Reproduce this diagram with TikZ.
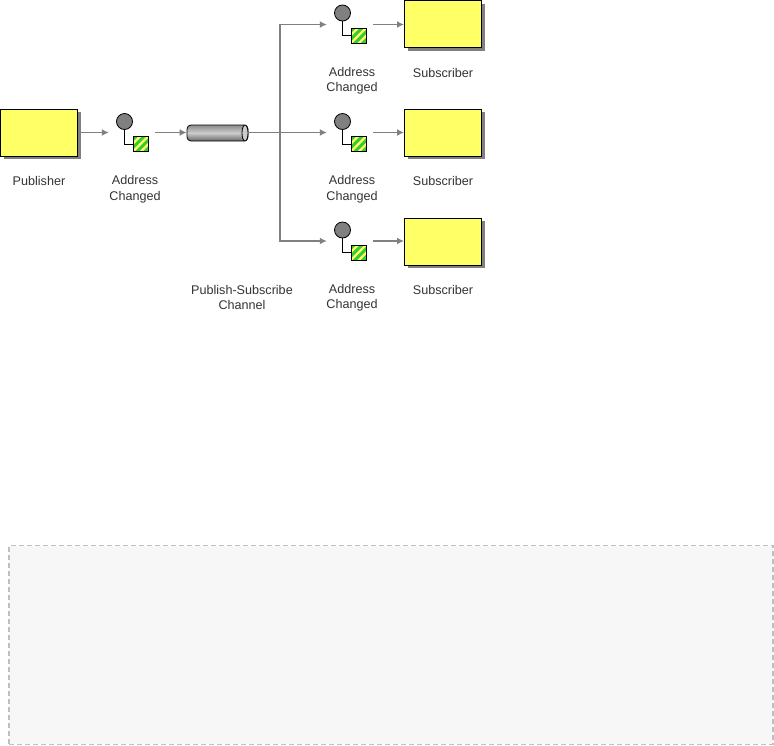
\documentclass[tikz,border=0pt]{standalone}
\usepackage{fontspec}
\setmainfont{Liberation Sans}
\usetikzlibrary{arrows.meta,shadows,shapes.geometric}
\definecolor{BoxYellow}{HTML}{FFFF66}
\definecolor{LineGray}{HTML}{808080}
\definecolor{StripeGreen}{HTML}{33CC33}
\definecolor{PanelGray}{HTML}{F7F7F7}
\definecolor{PanelLine}{HTML}{BFBFBF}

\begin{document}
\begin{tikzpicture}[
      x=1pt, y=-1pt,
      party/.style={
        draw=black,
        line width=1pt,
        fill=BoxYellow,
        minimum width=77pt,
        minimum height=47pt,
        inner sep=0pt,
        drop shadow={shadow xshift=3pt, shadow yshift=-3pt, fill=LineGray, opacity=1}
      },
      slot/.style={minimum width=46pt, minimum height=16pt, inner sep=0pt},
      bubble/.style={circle, draw=black, line width=0.8pt, fill=LineGray, minimum size=16pt, inner sep=0pt},
      payload/.style={
        draw=black, line width=0.9pt, fill=StripeGreen, minimum size=15pt, inner sep=0pt,
        path picture={
          \foreach \d in {-20,-12,-4}
            \draw[BoxYellow, line width=2.2pt]
              ([xshift=\d pt, yshift=-12pt]path picture bounding box.center) -- ++(24pt,24pt);
        }
      },
      stem/.style={draw=black, line width=0.9pt},
      flow/.style={-{Latex[length=7pt,width=7pt]}, draw=LineGray, line width=1.5pt},
      lbl/.style={align=center, font=\fontsize{12.6}{15.5}\selectfont, text=black!80, inner sep=0pt}
    ]
      \useasboundingbox (0,0) rectangle (774,745);

      \node[draw=PanelLine, dashed, dash pattern=on 5pt off 3pt, line width=1.2pt, fill=PanelGray,
        minimum width=764pt, minimum height=198.5pt, inner sep=0pt] (panel) at (391,645) {};

      % publisher side
      \node[party] (publisher) at (39,132.5) {};
      \node[slot] (slotP) at (132,132.5) {};
      \node[bubble] (bubbleP) at (124.5,121.5) {};
      \node[payload] (payloadP) at (140.5,144) {};
      \draw[stem] (bubbleP) |- (payloadP);
      \node[minimum width=61pt, minimum height=16pt, inner sep=0pt, rounded corners=4pt, draw=black,
        line width=0.8pt, top color=black!45, bottom color=black!60, middle color=black!20] (channel) at (217.5,133) {};
      \node[ellipse, draw=black, line width=0.8pt, fill=black!20, minimum width=6pt, minimum height=16pt,
        inner sep=0pt] (channelEnd) at (245,133) {};

      % subscriber rows
      \node[slot] (slotA) at (350,24.5) {};
      \node[bubble] (bubbleA) at (342.5,13) {};
      \node[payload] (payloadA) at (358.5,35.5) {};
      \draw[stem] (bubbleA) |- (payloadA);
      \node[party] (subscriberA) at (443,24) {};

      \node[slot] (slotB) at (350,132.5) {};
      \node[bubble] (bubbleB) at (342.5,121.5) {};
      \node[payload] (payloadB) at (358.5,144) {};
      \draw[stem] (bubbleB) |- (payloadB);
      \node[party] (subscriberB) at (443,132.5) {};

      \node[slot] (slotC) at (350,241) {};
      \node[bubble] (bubbleC) at (342.5,230) {};
      \node[payload] (payloadC) at (358.5,252.5) {};
      \draw[stem] (bubbleC) |- (payloadC);
      \node[party] (subscriberC) at (443,241.5) {};

      \coordinate (fork) at (280,132.5);

      \draw[flow, shorten <=3pt] (publisher.east) -- (slotP.west);
      \draw[flow] (slotP.east) -- (channel.west |- slotP.east);
      \draw[flow] (channelEnd.east |- fork) -- (slotB.west);
      \draw[flow] (fork) |- (slotA.west);
      \draw[flow] (fork) |- (slotC.west);
      \draw[flow] (slotA.east) -- (subscriberA.west |- slotA.east);
      \draw[flow] (slotB.east) -- (subscriberB.west |- slotB.east);
      \draw[flow] (slotC.east) -- (subscriberC.west |- slotC.east);

      % labels
      \node[lbl] (publisherText) at (39,181) {Publisher};
      \node[lbl] (eventP) at (135,189) {Address\\Changed};
      \node[lbl] (channelText) at (242,297.5) {Publish-Subscribe\\Channel};
      \node[lbl] (eventA) at (352,80.5) {Address\\Changed};
      \node[lbl] (eventB) at (352,189) {Address\\Changed};
      \node[lbl] (eventC) at (352,297.5) {Address\\Changed};
      \node[lbl] (subscriberTextA) at (443,72.5) {Subscriber};
      \node[lbl] (subscriberTextB) at (443,181) {Subscriber};
      \node[lbl] (subscriberTextC) at (443,289.5) {Subscriber};
    \end{tikzpicture}
\end{document}
